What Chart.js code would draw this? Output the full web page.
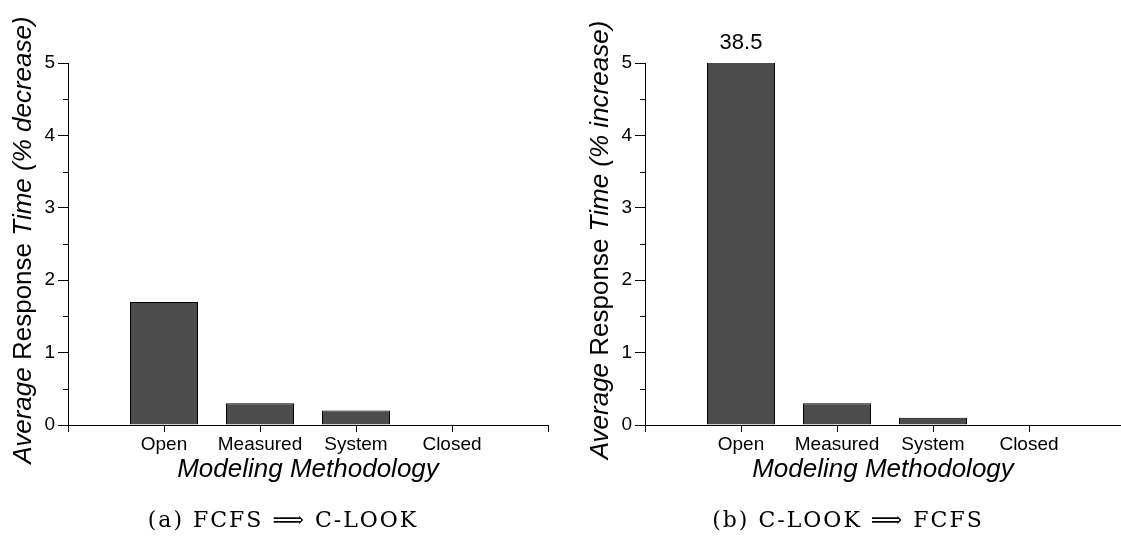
<!DOCTYPE html>
<html>
<head>
<meta charset="utf-8">
<script src="https://cdn.jsdelivr.net/npm/chart.js@4.4.0/dist/chart.umd.min.js"></script>
<style>
  html, body { margin: 0; padding: 0; background: #fff; overflow: hidden; }
  canvas { position: absolute; top: 0; }
  #left { left: 0; }
  #right { left: 560px; }
</style>
</head>
<body>
<canvas id="left" width="560" height="550"></canvas>
<canvas id="right" width="561" height="550"></canvas>
<script>
const categories = ['Open', 'Measured', 'System', 'Closed'];
const fcfsToClook = [1.7, 0.3, 0.2, 0];   // % decrease
const clookToFcfs = [38.5, 0.3, 0.1, 0];  // % increase
const yTicks = [0, 1, 2, 3, 4, 5];
const xTicks = [0, 1, 2, 3, 4, 5];

const SANS = '"Liberation Sans", Arial, sans-serif';
const SERIF = '"DejaVu Serif", "Liberation Serif", serif';

// axis titles, minor ticks, caption and the value of a bar that runs off the top
const extras = {
  id: 'extras',
  afterDraw(chart, args, opts) {
    const ctx = chart.ctx;
    const area = chart.chartArea;
    const y = chart.scales.y;
    ctx.save();
    ctx.fillStyle = '#000';
    ctx.strokeStyle = '#000';
    ctx.lineWidth = 1;

    // half-step ticks on the y axis
    for (let v = 0.5; v < y.max; v += 1) {
      const py = Math.round(y.getPixelForValue(v)) + 0.5;
      ctx.beginPath();
      ctx.moveTo(area.left - 5, py);
      ctx.lineTo(area.left, py);
      ctx.stroke();
    }

    // labels for bars clipped at the top
    const meta = chart.getDatasetMeta(0);
    meta.data.forEach((bar, i) => {
      const v = chart.data.datasets[0].data[i].y;
      if (v > y.max) {
        ctx.font = '22px ' + SANS;
        ctx.textAlign = 'center';
        ctx.textBaseline = 'alphabetic';
        ctx.fillText(String(v), bar.x, area.top - 14);
      }
    });

    // y title, mixed upright/italic
    ctx.save();
    ctx.translate(area.left - 37, 240);
    ctx.rotate(-Math.PI / 2);
    ctx.textAlign = 'left';
    ctx.textBaseline = 'alphabetic';
    let total = 0;
    opts.yTitle.forEach(s => {
      ctx.font = (s[1] ? 'italic ' : '') + '26px ' + SANS;
      s.w = ctx.measureText(s[0]).width;
      total += s.w;
    });
    let x = -total / 2;
    opts.yTitle.forEach(s => {
      ctx.font = (s[1] ? 'italic ' : '') + '26px ' + SANS;
      ctx.fillText(s[0], x, 0);
      x += s.w;
    });
    ctx.restore();

    // x title
    ctx.font = 'italic 26px ' + SANS;
    ctx.textAlign = 'center';
    ctx.textBaseline = 'alphabetic';
    ctx.fillText(opts.xTitle, (area.left + area.right) / 2, 477);

    // caption
    ctx.font = '22px ' + SERIF;
    ctx.letterSpacing = '2px';
    ctx.fillText(opts.caption, opts.captionX, 527);
    ctx.restore();
  }
};

function makeChart(id, values, opts) {
  return new Chart(document.getElementById(id), {
    type: 'bar',
    data: {
      datasets: [{
        data: values.map((v, i) => ({ x: i + 1, y: v })),
        backgroundColor: '#4c4c4c',
        borderColor: '#000',
        borderWidth: 1,
        barThickness: 68,
        inflateAmount: 0
      }]
    },
    options: {
      responsive: false,
      animation: false,
      layout: { padding: { top: 63, bottom: 60, left: 0, right: opts.padRight } },
      plugins: {
        legend: { display: false },
        tooltip: { enabled: false },
        extras: opts
      },
      scales: {
        x: {
          type: 'linear',
          min: 0,
          max: opts.xMax,
          offset: false,
          afterBuildTicks: s => { s.ticks = xTicks.filter(v => v <= s.max).map(v => ({ value: v })); },
          afterFit: s => { s.height = 65; },
          ticks: {
            callback: v => categories[v - 1] || '',
            autoSkip: false,
            maxRotation: 0,
            padding: 1,
            color: '#000',
            font: { family: SANS, size: 19 }
          },
          grid: { offset: false, drawOnChartArea: false, tickLength: 7, color: '#000' },
          border: { color: '#000' }
        },
        y: {
          min: 0,
          max: 5,
          afterBuildTicks: s => { s.ticks = yTicks.map(v => ({ value: v })); },
          afterFit: s => { s.width = opts.yWidth; },
          ticks: { padding: 3, color: '#000', font: { family: SANS, size: 19 } },
          grid: { drawOnChartArea: false, tickLength: 10, color: '#000' },
          border: { color: '#000' }
        }
      }
    },
    plugins: [extras]
  });
}

makeChart('left', fcfsToClook, {
  yTitle: [['Average ', true], ['Response', false], [' Time (% decrease)', true]],
  xTitle: 'Modeling Methodology',
  caption: '(a) FCFS \u27F9 C-LOOK',
  captionX: 283,
  xMax: 5,
  yWidth: 68,
  padRight: 12
});

makeChart('right', clookToFcfs, {
  yTitle: [['Average ', true], ['Response', false], [' Time (% increase)', true]],
  xTitle: 'Modeling Methodology',
  caption: '(b) C-LOOK \u27F9 FCFS',
  captionX: 288,
  xMax: 4.9583,
  yWidth: 85,
  padRight: 0
});
</script>
</body>
</html>
